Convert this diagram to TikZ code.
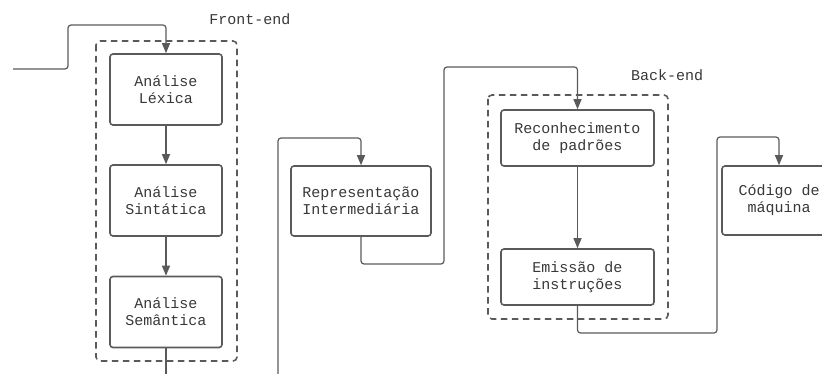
\documentclass[tikz,border=0pt]{standalone}
\usepackage{fontspec}
\setmonofont{Liberation Mono}
\usetikzlibrary{arrows.meta}
\definecolor{linha}{HTML}{5A5A5A}
\definecolor{texto}{HTML}{383838}
\tikzset{every node/.style={font=\ttfamily\fontsize{15}{17}\selectfont, text=texto}}
\tikzset{etapa/.style={draw=linha, line width=1.6pt, rounded corners=3pt, align=center, inner sep=0, fill=white}}
\tikzset{grupo/.style={draw=linha, line width=1.6pt, rounded corners=4pt, dash pattern=on 6.5pt off 4.5pt}}
\tikzset{seta/.style={draw=linha, line width=1.2pt, rounded corners=3pt, -{Triangle[length=10pt,width=8pt]}}}
\tikzset{fio/.style={draw=linha, line width=1.2pt, rounded corners=3pt}}

\begin{document}
\begin{tikzpicture}[x=1pt,y=-1pt]
    \useasboundingbox (0,0) rectangle (822,374);
    \clip (0,0) rectangle (822,374);
    % grupos
    \draw[grupo] (96,41) rectangle (237,361);
    \draw[grupo] (488,95) rectangle (668,319);
    \node (frontend) at (250,19) {Front-end};
    \node (backend) at (667,75) {Back-end};
    % etapas
    \node[etapa, minimum width=112, minimum height=71] (lexica) at (166,89.5) {Análise\\Léxica};
    \node[etapa, minimum width=112, minimum height=71] (sintatica) at (166,200.5) {Análise\\Sintática};
    \node[etapa, minimum width=112, minimum height=71] (semantica) at (166,312) {Análise\\Semântica};
    \node[etapa, minimum width=140, minimum height=70] (repr) at (361,201) {Representação\\Intermediária};
    \node[etapa, minimum width=153, minimum height=56] (padroes) at (577.5,138) {Reconhecimento\\de padrões};
    \node[etapa, minimum width=153, minimum height=56] (emissao) at (577.5,277) {Emissão de\\instruções};
    \node[etapa, minimum width=114, minimum height=69] (codigo) at (779,200.5) {Código de\\máquina};
    % ligacoes
    \coordinate (entrada) at (13,69);
    \coordinate (saida) at (166,380);
    \coordinate (volta) at (278,380);
    \draw[seta] (entrada) -| (68,25) -| (lexica.north);
    \draw[seta] (lexica) -- (sintatica);
    \draw[seta] (sintatica) -- (semantica);
    \draw[fio] (semantica) -- (saida);
    \draw[seta] (volta) -- (278,138) -| (repr.north);
    \draw[seta] (repr.south) |- (444,264) -- (444,67) -| (padroes.north);
    \draw[seta] (padroes) -- (emissao);
    \draw[seta] (emissao.south) |- (717,333) -- (717,137) -| (codigo.north);
\end{tikzpicture}
\end{document}
